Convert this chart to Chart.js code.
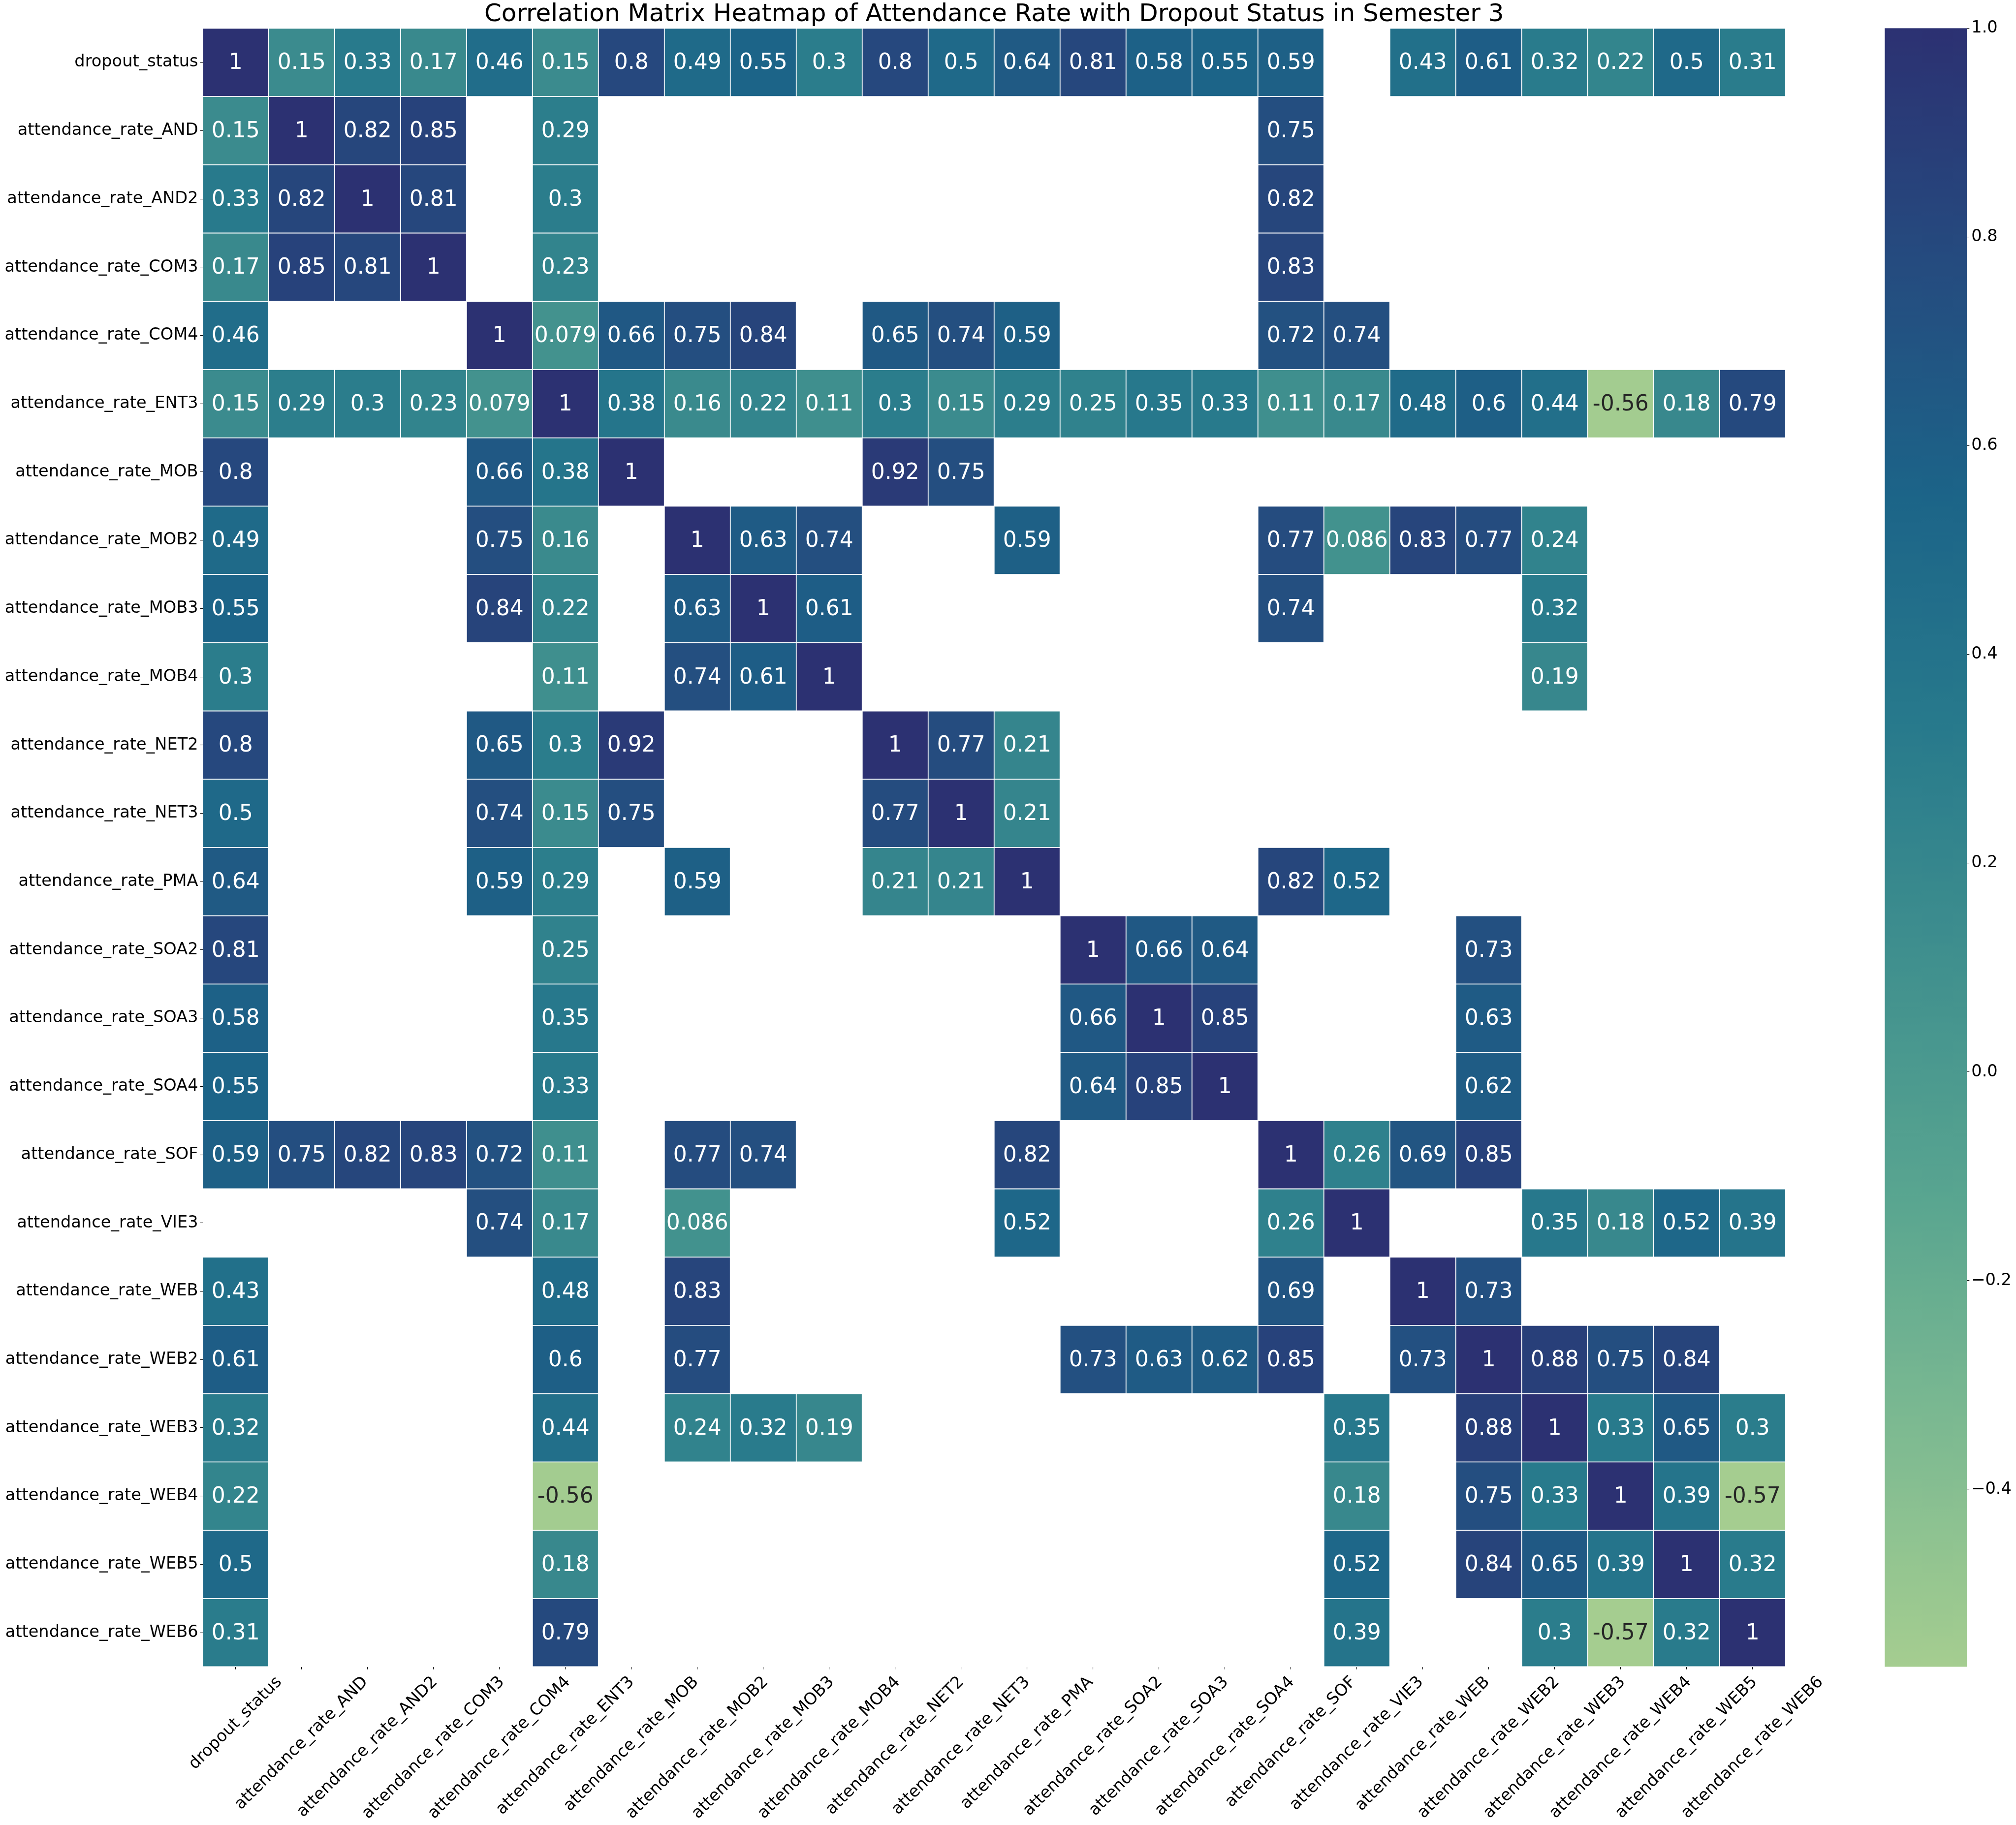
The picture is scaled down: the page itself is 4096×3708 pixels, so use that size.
<!DOCTYPE html>
<html>
<head>
<meta charset="utf-8">
<script src="https://cdn.jsdelivr.net/npm/chart.js@4.4.1/dist/chart.umd.min.js"></script>
<style>
html, body { margin: 0; padding: 0; background: #ffffff; }
canvas { display: block; }
</style>
</head>
<body>
<canvas id="c" width="4096" height="3708"></canvas>
<script>
// ---------------- DATA ----------------
const categories = [
  'dropout_status', 'attendance_rate_AND', 'attendance_rate_AND2', 'attendance_rate_COM3',
  'attendance_rate_COM4', 'attendance_rate_ENT3', 'attendance_rate_MOB', 'attendance_rate_MOB2',
  'attendance_rate_MOB3', 'attendance_rate_MOB4', 'attendance_rate_NET2', 'attendance_rate_NET3',
  'attendance_rate_PMA', 'attendance_rate_SOA2', 'attendance_rate_SOA3', 'attendance_rate_SOA4',
  'attendance_rate_SOF', 'attendance_rate_VIE3', 'attendance_rate_WEB', 'attendance_rate_WEB2',
  'attendance_rate_WEB3', 'attendance_rate_WEB4', 'attendance_rate_WEB5', 'attendance_rate_WEB6'
];
const n = null;
const row_dropout_status = [1, 0.15, 0.33, 0.17, 0.46, 0.15, 0.8, 0.49, 0.55, 0.3, 0.8, 0.5, 0.64, 0.81, 0.58, 0.55, 0.59, n, 0.43, 0.61, 0.32, 0.22, 0.5, 0.31];
const row_AND  = [0.15, 1, 0.82, 0.85, n, 0.29, n, n, n, n, n, n, n, n, n, n, 0.75, n, n, n, n, n, n, n];
const row_AND2 = [0.33, 0.82, 1, 0.81, n, 0.3, n, n, n, n, n, n, n, n, n, n, 0.82, n, n, n, n, n, n, n];
const row_COM3 = [0.17, 0.85, 0.81, 1, n, 0.23, n, n, n, n, n, n, n, n, n, n, 0.83, n, n, n, n, n, n, n];
const row_COM4 = [0.46, n, n, n, 1, 0.079, 0.66, 0.75, 0.84, n, 0.65, 0.74, 0.59, n, n, n, 0.72, 0.74, n, n, n, n, n, n];
const row_ENT3 = [0.15, 0.29, 0.3, 0.23, 0.079, 1, 0.38, 0.16, 0.22, 0.11, 0.3, 0.15, 0.29, 0.25, 0.35, 0.33, 0.11, 0.17, 0.48, 0.6, 0.44, -0.56, 0.18, 0.79];
const row_MOB  = [0.8, n, n, n, 0.66, 0.38, 1, n, n, n, 0.92, 0.75, n, n, n, n, n, n, n, n, n, n, n, n];
const row_MOB2 = [0.49, n, n, n, 0.75, 0.16, n, 1, 0.63, 0.74, n, n, 0.59, n, n, n, 0.77, 0.086, 0.83, 0.77, 0.24, n, n, n];
const row_MOB3 = [0.55, n, n, n, 0.84, 0.22, n, 0.63, 1, 0.61, n, n, n, n, n, n, 0.74, n, n, n, 0.32, n, n, n];
const row_MOB4 = [0.3, n, n, n, n, 0.11, n, 0.74, 0.61, 1, n, n, n, n, n, n, n, n, n, n, 0.19, n, n, n];
const row_NET2 = [0.8, n, n, n, 0.65, 0.3, 0.92, n, n, n, 1, 0.77, 0.21, n, n, n, n, n, n, n, n, n, n, n];
const row_NET3 = [0.5, n, n, n, 0.74, 0.15, 0.75, n, n, n, 0.77, 1, 0.21, n, n, n, n, n, n, n, n, n, n, n];
const row_PMA  = [0.64, n, n, n, 0.59, 0.29, n, 0.59, n, n, 0.21, 0.21, 1, n, n, n, 0.82, 0.52, n, n, n, n, n, n];
const row_SOA2 = [0.81, n, n, n, n, 0.25, n, n, n, n, n, n, n, 1, 0.66, 0.64, n, n, n, 0.73, n, n, n, n];
const row_SOA3 = [0.58, n, n, n, n, 0.35, n, n, n, n, n, n, n, 0.66, 1, 0.85, n, n, n, 0.63, n, n, n, n];
const row_SOA4 = [0.55, n, n, n, n, 0.33, n, n, n, n, n, n, n, 0.64, 0.85, 1, n, n, n, 0.62, n, n, n, n];
const row_SOF  = [0.59, 0.75, 0.82, 0.83, 0.72, 0.11, n, 0.77, 0.74, n, n, n, 0.82, n, n, n, 1, 0.26, 0.69, 0.85, n, n, n, n];
const row_VIE3 = [n, n, n, n, 0.74, 0.17, n, 0.086, n, n, n, n, 0.52, n, n, n, 0.26, 1, n, n, 0.35, 0.18, 0.52, 0.39];
const row_WEB  = [0.43, n, n, n, n, 0.48, n, 0.83, n, n, n, n, n, n, n, n, 0.69, n, 1, 0.73, n, n, n, n];
const row_WEB2 = [0.61, n, n, n, n, 0.6, n, 0.77, n, n, n, n, n, 0.73, 0.63, 0.62, 0.85, n, 0.73, 1, 0.88, 0.75, 0.84, n];
const row_WEB3 = [0.32, n, n, n, n, 0.44, n, 0.24, 0.32, 0.19, n, n, n, n, n, n, n, 0.35, n, 0.88, 1, 0.33, 0.65, 0.3];
const row_WEB4 = [0.22, n, n, n, n, -0.56, n, n, n, n, n, n, n, n, n, n, n, 0.18, n, 0.75, 0.33, 1, 0.39, -0.57];
const row_WEB5 = [0.5, n, n, n, n, 0.18, n, n, n, n, n, n, n, n, n, n, n, 0.52, n, 0.84, 0.65, 0.39, 1, 0.32];
const row_WEB6 = [0.31, n, n, n, n, 0.79, n, n, n, n, n, n, n, n, n, n, n, 0.39, n, n, 0.3, -0.57, 0.32, 1];

const rows = [row_dropout_status, row_AND, row_AND2, row_COM3, row_COM4, row_ENT3, row_MOB, row_MOB2,
  row_MOB3, row_MOB4, row_NET2, row_NET3, row_PMA, row_SOA2, row_SOA3, row_SOA4, row_SOF, row_VIE3,
  row_WEB, row_WEB2, row_WEB3, row_WEB4, row_WEB5, row_WEB6];

const colorbarTicks = [-0.4, -0.2, 0.0, 0.2, 0.4, 0.6, 0.8, 1.0];
const vmin = -0.57;
const vmax = 1.0;
const titleText = 'Correlation Matrix Heatmap of Attendance Rate with Dropout Status in Semester 3';

// ---------------- STYLE ----------------
const FONT = "'DejaVu Sans', 'Liberation Sans', sans-serif";
const TICK_FS = 33.6;
const ANNOT_FS = 44;
const TITLE_FS = 50;
const W = 4096, H = 3708;
const AREA = { left: 411.74, right: 3627.8, top: 57.35, bottom: 3386.5 };
const CB = { left: 3829.4, right: 3996.3 };

const CREST = [[165,205,144],[125,186,145],[89,165,144],[64,144,142],[40,122,140],[28,100,136],[37,75,127],[44,49,114]];
function crest(t) {
  t = Math.max(0, Math.min(1, t));
  const p = t * (CREST.length - 1);
  const i = Math.min(CREST.length - 2, Math.floor(p));
  const f = p - i;
  return CREST[i].map((c, k) => c + (CREST[i + 1][k] - c) * f);
}
function rgbStr(c) { return 'rgb(' + c.map(v => Math.round(v)).join(',') + ')'; }
function colorFor(v) { return crest((v - vmin) / (vmax - vmin)); }
function luminance(c) {
  const l = c.map(v => { v = v / 255; return v <= 0.03928 ? v / 12.92 : Math.pow((v + 0.055) / 1.055, 2.4); });
  return 0.2126 * l[0] + 0.7152 * l[1] + 0.0722 * l[2];
}
function fmt2g(v) { return String(Number(v.toPrecision(2))); }

// ---------------- DATASETS ----------------
const datasets = rows.map((vals, r) => ({
  label: categories[r],
  data: vals.map(v => (v === null ? null : [r, r + 1])),
  backgroundColor: vals.map(v => (v === null ? 'rgba(0,0,0,0)' : rgbStr(colorFor(v)))),
  borderColor: '#ffffff',
  borderWidth: 0.9,
  borderSkipped: false,
  inflateAmount: 0,
  barPercentage: 1,
  categoryPercentage: 1,
  grouped: false,
  xAxisID: 'x',
  yAxisID: 'y'
}));

// ---------------- PLUGINS ----------------
const annotPlugin = {
  id: 'annot',
  afterDatasetsDraw(chart) {
    const ctx = chart.ctx;
    ctx.save();
    ctx.font = ANNOT_FS + 'px ' + FONT;
    ctx.textAlign = 'center';
    ctx.textBaseline = 'alphabetic';
    rows.forEach((vals, r) => {
      const meta = chart.getDatasetMeta(r);
      meta.data.forEach((el, c) => {
        const v = vals[c];
        if (v === null) return;
        const p = el.getProps(['x', 'y', 'base'], true);
        const cy = (p.y + p.base) / 2;
        ctx.fillStyle = luminance(colorFor(v)) > 0.408 ? 'rgb(38,38,38)' : '#ffffff';
        ctx.fillText(fmt2g(v), p.x, cy + 0.307 * ANNOT_FS);
      });
    });
    ctx.restore();
  }
};

const xLabelPlugin = {
  id: 'xlabels',
  afterDraw(chart) {
    const ctx = chart.ctx;
    const xs = chart.scales.x;
    ctx.save();
    ctx.font = TICK_FS + 'px ' + FONT;
    ctx.fillStyle = '#000000';
    ctx.textAlign = 'left';
    ctx.textBaseline = 'alphabetic';
    const c45 = Math.SQRT1_2;
    categories.forEach((lab, i) => {
      const px = xs.getPixelForTick(i);
      const w = ctx.measureText(lab).width;
      const ox = px - c45 * (w - 0.52 * TICK_FS) / 2;
      const oy = xs.top + 32.2 + c45 * w;
      ctx.save();
      ctx.translate(ox, oy);
      ctx.rotate(-Math.PI / 4);
      ctx.fillText(lab, 0, 0);
      ctx.restore();
    });
    ctx.restore();
  }
};

const colorbarPlugin = {
  id: 'colorbar',
  afterDraw(chart) {
    const ctx = chart.ctx;
    const cb = chart.scales.cb;
    const gap = chart.scales.gap;
    const top = cb.getPixelForValue(vmax);
    const bottom = cb.getPixelForValue(vmin);
    const x1 = gap.right;
    const x0 = x1 - (CB.right - CB.left);
    const g = ctx.createLinearGradient(0, top, 0, bottom);
    const N = 128;
    for (let k = 0; k <= N; k++) {
      g.addColorStop(k / N, rgbStr(crest(1 - k / N)));
    }
    ctx.save();
    ctx.fillStyle = g;
    ctx.fillRect(x0, top, x1 - x0, bottom - top);
    ctx.restore();
  }
};

// ---------------- CHART ----------------
Chart.defaults.font.family = FONT;
Chart.defaults.color = '#000000';

new Chart(document.getElementById('c'), {
  type: 'bar',
  data: { labels: categories, datasets },
  options: {
    responsive: false,
    devicePixelRatio: 1,
    animation: false,
    events: [],
    layout: { padding: 0 },
    plugins: {
      legend: { display: false },
      tooltip: { enabled: false },
      title: {
        display: true,
        text: titleText,
        fullSize: false,
        align: 'center',
        color: '#000000',
        font: { size: TITLE_FS, family: FONT, weight: 'normal', lineHeight: 1 },
        padding: { top: 5.3, bottom: AREA.top - TITLE_FS - 5.3 }
      }
    },
    scales: {
      x: {
        type: 'category',
        position: 'bottom',
        offset: true,
        grid: { display: true, drawOnChartArea: false, drawTicks: true, tickLength: 5.2, color: '#000000', lineWidth: 1.1, offset: false },
        border: { display: false },
        ticks: { display: false, autoSkip: false },
        afterFit(s) { s.height = H - AREA.bottom; }
      },
      y: {
        type: 'linear',
        position: 'left',
        min: 0,
        max: 24,
        reverse: true,
        grid: { display: true, drawOnChartArea: false, drawTicks: true, tickLength: 5.2, color: '#000000', lineWidth: 1.1 },
        border: { display: false },
        afterBuildTicks(s) { s.ticks = categories.map((_, i) => ({ value: i + 0.5 })); },
        ticks: {
          autoSkip: false,
          padding: 4,
          color: '#000000',
          font: { size: TICK_FS, family: FONT },
          callback: (v) => categories[Math.floor(v)]
        },
        afterFit(s) { s.width = AREA.left; }
      },
      gap: {
        type: 'linear',
        position: 'right',
        weight: 0,
        min: 0,
        max: 1,
        grid: { display: false, drawTicks: false },
        border: { display: false },
        ticks: { display: false },
        afterFit(s) { s.width = CB.right - AREA.right; }
      },
      cb: {
        type: 'linear',
        position: 'right',
        weight: 1,
        min: vmin,
        max: vmax,
        grid: { display: true, drawOnChartArea: false, drawTicks: true, tickLength: 5, color: '#000000', lineWidth: 1.1 },
        border: { display: false },
        afterBuildTicks(s) { s.ticks = colorbarTicks.map(v => ({ value: v })); },
        ticks: {
          autoSkip: false,
          padding: 4,
          color: '#000000',
          font: { size: TICK_FS, family: FONT },
          callback: (v) => (v < 0 ? '\u2212' : '') + Math.abs(v).toFixed(1)
        },
        afterFit(s) { s.width = W - CB.right; }
      }
    }
  },
  plugins: [annotPlugin, colorbarPlugin, xLabelPlugin]
});
</script>
</body>
</html>
